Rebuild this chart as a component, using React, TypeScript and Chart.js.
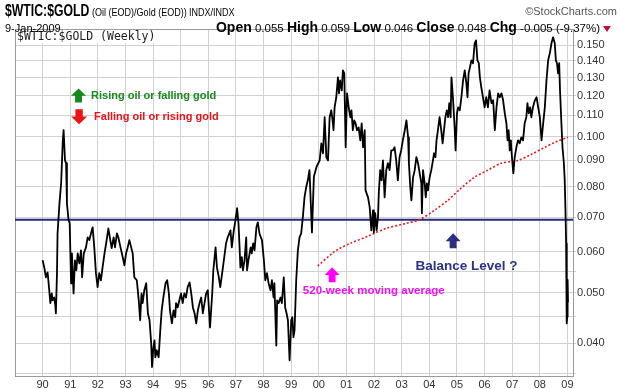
import React, { useEffect, useRef } from "react";
import { Chart, registerables } from "chart.js";

Chart.register(...registerables);

// ---- data (decimal year of week, ratio oil/gold) ----
const weeks: number[] = [
  1990.00, 1990.06, 1990.12, 1990.18, 1990.24, 1990.28, 1990.33, 1990.36, 1990.42, 1990.46,
  1990.48, 1990.52, 1990.54, 1990.61, 1990.67, 1990.73, 1990.76, 1990.81, 1990.85, 1990.88,
  1990.94, 1990.98, 1991.03, 1991.06, 1991.12, 1991.17, 1991.22, 1991.27, 1991.33, 1991.39,
  1991.43, 1991.49, 1991.57, 1991.63, 1991.69, 1991.75, 1991.81, 1991.87, 1991.93, 1991.99,
  1992.05, 1992.11, 1992.17, 1992.24, 1992.30, 1992.38, 1992.45, 1992.50, 1992.57, 1992.62,
  1992.69, 1992.74, 1992.82, 1992.90, 1992.96, 1993.02, 1993.08, 1993.14, 1993.26, 1993.32,
  1993.41, 1993.48, 1993.53, 1993.58, 1993.62, 1993.68, 1993.75, 1993.81, 1993.87, 1993.93,
  1993.96, 1994.01, 1994.05, 1994.08, 1994.13, 1994.20, 1994.26, 1994.31, 1994.37, 1994.45,
  1994.51, 1994.57, 1994.61, 1994.68, 1994.74, 1994.80, 1994.83, 1994.89, 1994.95, 1995.01,
  1995.07, 1995.13, 1995.19, 1995.25, 1995.32, 1995.38, 1995.44, 1995.50, 1995.56, 1995.62,
  1995.68, 1995.74, 1995.80, 1995.86, 1995.92, 1995.98, 1996.06, 1996.14, 1996.18, 1996.26,
  1996.31, 1996.38, 1996.43, 1996.50, 1996.56, 1996.64, 1996.70, 1996.80, 1996.85, 1996.92,
  1996.98, 1997.04, 1997.09, 1997.13, 1997.16, 1997.21, 1997.25, 1997.31, 1997.37, 1997.40,
  1997.45, 1997.53, 1997.57, 1997.62, 1997.67, 1997.74, 1997.79, 1997.85, 1997.94, 1998.01,
  1998.06, 1998.12, 1998.18, 1998.25, 1998.30, 1998.36, 1998.39, 1998.46, 1998.49, 1998.54,
  1998.61, 1998.66, 1998.73, 1998.78, 1998.83, 1998.88, 1998.94, 1999.00, 1999.04, 1999.08,
  1999.12, 1999.18, 1999.24, 1999.30, 1999.36, 1999.42, 1999.48, 1999.54, 1999.60, 1999.66,
  1999.75, 1999.82, 1999.92, 2000.03, 2000.09, 2000.15, 2000.21, 2000.27, 2000.33, 2000.39,
  2000.45, 2000.51, 2000.53, 2000.57, 2000.63, 2000.69, 2000.73, 2000.77, 2000.83, 2000.87,
  2000.92, 2000.97, 2001.02, 2001.08, 2001.14, 2001.18, 2001.23, 2001.28, 2001.33, 2001.38,
  2001.44, 2001.50, 2001.55, 2001.60, 2001.66, 2001.69, 2001.78, 2001.84, 2001.90, 2001.96,
  2001.99, 2002.04, 2002.09, 2002.14, 2002.17, 2002.22, 2002.27, 2002.32, 2002.38, 2002.44,
  2002.50, 2002.56, 2002.62, 2002.68, 2002.74, 2002.80, 2002.86, 2002.92, 2002.98, 2003.04,
  2003.11, 2003.17, 2003.23, 2003.26, 2003.31, 2003.35, 2003.41, 2003.47, 2003.53, 2003.59,
  2003.65, 2003.71, 2003.73, 2003.77, 2003.83, 2003.87, 2003.91, 2003.95, 2004.01, 2004.07,
  2004.13, 2004.17, 2004.22, 2004.26, 2004.31, 2004.37, 2004.43, 2004.48, 2004.53, 2004.58,
  2004.63, 2004.68, 2004.72, 2004.77, 2004.80, 2004.86, 2004.92, 2004.95, 2005.00, 2005.04,
  2005.10, 2005.16, 2005.22, 2005.28, 2005.34, 2005.38, 2005.42, 2005.47, 2005.52, 2005.58,
  2005.64, 2005.69, 2005.74, 2005.79, 2005.83, 2005.88, 2005.94, 2006.00, 2006.06, 2006.12,
  2006.18, 2006.25, 2006.31, 2006.37, 2006.43, 2006.49, 2006.55, 2006.61, 2006.67, 2006.73,
  2006.79, 2006.83, 2006.87, 2006.91, 2006.95, 2006.99, 2007.04, 2007.09, 2007.15, 2007.21,
  2007.27, 2007.33, 2007.39, 2007.45, 2007.51, 2007.55, 2007.60, 2007.65, 2007.69, 2007.75,
  2007.82, 2007.88, 2007.94, 2008.00, 2008.06, 2008.12, 2008.18, 2008.24, 2008.30, 2008.36,
  2008.42, 2008.48, 2008.54, 2008.58, 2008.62, 2008.66, 2008.70, 2008.73, 2008.78, 2008.82,
  2008.87, 2008.90, 2008.93, 2008.95, 2008.965, 2008.98, 2008.99, 2009.005, 2009.02,
];

const ratio: number[] = [
  0.0578, 0.0560, 0.0536, 0.0548, 0.0506, 0.0478, 0.0499, 0.0484, 0.0490, 0.0473,
  0.0457, 0.0546, 0.0651, 0.0744, 0.0813, 0.0984, 0.1029, 0.0900, 0.0889, 0.0744,
  0.0690, 0.0681, 0.0522, 0.0596, 0.0499, 0.0578, 0.0553, 0.0596, 0.0570, 0.0604,
  0.0536, 0.0596, 0.0612, 0.0640, 0.0632, 0.0651, 0.0669, 0.0612, 0.0546, 0.0513,
  0.0546, 0.0529, 0.0560, 0.0596, 0.0623, 0.0666, 0.0632, 0.0610, 0.0640, 0.0612,
  0.0651, 0.0640, 0.0612, 0.0586, 0.0565, 0.0596, 0.0612, 0.0632, 0.0596, 0.0536,
  0.0529, 0.0484, 0.0443, 0.0499, 0.0478, 0.0506, 0.0522, 0.0457, 0.0443, 0.0400,
  0.0360, 0.0393, 0.0405, 0.0376, 0.0388, 0.0376, 0.0424, 0.0463, 0.0490, 0.0522,
  0.0529, 0.0499, 0.0463, 0.0437, 0.0463, 0.0449, 0.0478, 0.0469, 0.0484, 0.0499,
  0.0478, 0.0499, 0.0490, 0.0513, 0.0524, 0.0499, 0.0469, 0.0457, 0.0437, 0.0463,
  0.0478, 0.0490, 0.0457, 0.0478, 0.0499, 0.0506, 0.0429, 0.0499, 0.0553, 0.0612,
  0.0560, 0.0536, 0.0513, 0.0546, 0.0578, 0.0623, 0.0640, 0.0660, 0.0612, 0.0660,
  0.0690, 0.0728, 0.0681, 0.0612, 0.0560, 0.0586, 0.0553, 0.0578, 0.0640, 0.0553,
  0.0578, 0.0612, 0.0596, 0.0623, 0.0604, 0.0669, 0.0684, 0.0651, 0.0632, 0.0578,
  0.0529, 0.0546, 0.0522, 0.0506, 0.0529, 0.0490, 0.0522, 0.0396, 0.0484, 0.0478,
  0.0490, 0.0478, 0.0536, 0.0469, 0.0457, 0.0443, 0.0371, 0.0443, 0.0449, 0.0411,
  0.0424, 0.0529, 0.0604, 0.0640, 0.0651, 0.0700, 0.0764, 0.0799, 0.0824, 0.0862,
  0.0654, 0.0838, 0.0876, 0.0900, 0.0971, 0.0929, 0.1090, 0.0913, 0.0900, 0.1090,
  0.1124, 0.1061, 0.1029, 0.1139, 0.1191, 0.1301, 0.1212, 0.1284, 0.1228, 0.1342,
  0.1324, 0.0954, 0.1212, 0.1139, 0.1090, 0.1124, 0.1029, 0.1075, 0.1061, 0.1029,
  0.1042, 0.0984, 0.1061, 0.0954, 0.1029, 0.0788, 0.0764, 0.0731, 0.0660, 0.0721,
  0.0654, 0.0712, 0.0660, 0.0700, 0.0778, 0.0862, 0.0824, 0.0900, 0.0764, 0.0862,
  0.0889, 0.0862, 0.0941, 0.0941, 0.0954, 0.0900, 0.0824, 0.0913, 0.0941, 0.0984,
  0.1029, 0.1075, 0.0997, 0.0889, 0.0799, 0.0754, 0.0835, 0.0862, 0.0913, 0.0889,
  0.0850, 0.0813, 0.0712, 0.0862, 0.0813, 0.0764, 0.0813, 0.0788, 0.0835, 0.0862,
  0.0900, 0.0929, 0.0913, 0.0984, 0.1029, 0.1090, 0.1029, 0.0971, 0.1029, 0.1090,
  0.1124, 0.1090, 0.1160, 0.1090, 0.1301, 0.1175, 0.1029, 0.0941, 0.1109, 0.1139,
  0.1124, 0.1191, 0.1284, 0.1342, 0.1267, 0.1191, 0.1324, 0.1360, 0.1403, 0.1385,
  0.1513, 0.1533, 0.1403, 0.1385, 0.1301, 0.1245, 0.1191, 0.1139, 0.1191, 0.1139,
  0.1228, 0.1160, 0.1175, 0.1029, 0.1139, 0.1212, 0.1191, 0.1212, 0.1175, 0.1109,
  0.1061, 0.0984, 0.1029, 0.0941, 0.0984, 0.0913, 0.0850, 0.0913, 0.0954, 0.0984,
  0.0971, 0.0997, 0.0984, 0.1061, 0.1090, 0.1160, 0.1109, 0.1139, 0.1090, 0.1139,
  0.1175, 0.1191, 0.1139, 0.1090, 0.0984, 0.1061, 0.1139, 0.1284, 0.1403, 0.1447,
  0.1513, 0.1554, 0.1513, 0.1403, 0.1385, 0.1324, 0.1385, 0.1228, 0.1061, 0.0954,
  0.0889, 0.0824, 0.0712, 0.0623, 0.0560, 0.0437, 0.0450, 0.0530, 0.0480,
];

// 520-week moving average
const maWeeks: number[] = [
  1999.96, 2000.50, 2000.75, 2001.11, 2001.83, 2002.44, 2003.17, 2003.65, 2004.19, 2004.67,
  2005.16, 2005.64, 2006.12, 2006.61, 2007.20, 2007.70, 2008.18, 2008.54, 2009.02,
];
const maValues: number[] = [
  0.0564, 0.0597, 0.0609, 0.0622, 0.0645, 0.0666, 0.0681, 0.0692, 0.0722, 0.0754,
  0.0797, 0.0836, 0.0862, 0.0889, 0.0900, 0.0925, 0.0954, 0.0975, 0.0998,
];

const balanceLevel = 0.0692;
const xRange: number[] = [1989.0, 2009.2];
const yRange: number[] = [0.0346, 0.1612];
const yearTicks: number[] = [
  1990, 1991, 1992, 1993, 1994, 1995, 1996, 1997, 1998, 1999,
  2000, 2001, 2002, 2003, 2004, 2005, 2006, 2007, 2008, 2009,
];
const yMajorTicks: number[] = [0.04, 0.05, 0.06, 0.07, 0.08, 0.09, 0.1, 0.11, 0.12, 0.13, 0.14, 0.15];
const yMinorTicks: number[] = [0.035, 0.045, 0.055];

const SANS = '"Liberation Sans", Arial, Helvetica, sans-serif';

function drawArrow(ctx: CanvasRenderingContext2D, cx: number, cy: number, w: number, h: number, up: boolean, color: string) {
  const headH = h * 0.52;
  const sw = w * 0.46;
  const top = cy - h / 2;
  const bottom = cy + h / 2;
  ctx.save();
  ctx.fillStyle = color;
  ctx.beginPath();
  if (up) {
    ctx.moveTo(cx, top);
    ctx.lineTo(cx + w / 2, top + headH);
    ctx.lineTo(cx + sw / 2, top + headH);
    ctx.lineTo(cx + sw / 2, bottom);
    ctx.lineTo(cx - sw / 2, bottom);
    ctx.lineTo(cx - sw / 2, top + headH);
    ctx.lineTo(cx - w / 2, top + headH);
  } else {
    ctx.moveTo(cx, bottom);
    ctx.lineTo(cx + w / 2, bottom - headH);
    ctx.lineTo(cx + sw / 2, bottom - headH);
    ctx.lineTo(cx + sw / 2, top);
    ctx.lineTo(cx - sw / 2, top);
    ctx.lineTo(cx - sw / 2, bottom - headH);
    ctx.lineTo(cx - w / 2, bottom - headH);
  }
  ctx.closePath();
  ctx.fill();
  ctx.restore();
}

const framePlugin = {
  id: "frame",
  beforeDatasetsDraw(chart: any) {
    const { ctx, chartArea } = chart;
    ctx.save();
    ctx.strokeStyle = "#9a9a9a";
    ctx.lineWidth = 1;
    ctx.beginPath();
    ctx.moveTo(chartArea.left + 0.5, chartArea.bottom);
    ctx.lineTo(chartArea.left + 0.5, chartArea.top + 0.5);
    ctx.lineTo(chartArea.right, chartArea.top + 0.5);
    ctx.stroke();
    ctx.font = '11.5px "DejaVu Sans Mono", monospace';
    const label = "$WTIC:$GOLD (Weekly)";
    const tw = ctx.measureText(label).width;
    ctx.fillStyle = "#ffffff";
    ctx.fillRect(chartArea.left + 1, chartArea.top + 1, tw + 4, 13);
    ctx.fillStyle = "#1a1a1a";
    ctx.textBaseline = "middle";
    ctx.textAlign = "left";
    ctx.fillText(label, chartArea.left + 2, chartArea.top + 8);
    ctx.restore();
  },
};

const annotationPlugin = {
  id: "notes",
  afterDatasetsDraw(chart: any) {
    const { ctx } = chart;
    const xs = chart.scales.x;
    const ys = chart.scales.y;
    const P = (t: number, v: number) => [xs.getPixelForValue(t), ys.getPixelForValue(v)];
    ctx.save();
    ctx.textBaseline = "middle";
    ctx.textAlign = "left";

    let [ax, ay] = P(1991.30, 0.12);
    drawArrow(ctx, ax, ay, 15, 14, true, "#138a1a");
    ctx.font = "bold 11px " + SANS;
    ctx.fillStyle = "#178a1e";
    ctx.fillText("Rising oil or falling gold", ax + 12.5, ay + 0.5);

    [ax, ay] = P(1991.32, 0.1092);
    drawArrow(ctx, ax, ay, 16, 15, false, "#ee1111");
    ctx.fillStyle = "#e8141c";
    ctx.fillText("Falling oil or rising gold", ax + 15, ay + 0.5);

    [ax, ay] = P(2000.48, 0.0542);
    drawArrow(ctx, ax, ay, 15, 15, true, "#ff00ff");
    let [tx, ty] = P(1999.42, 0.0504);
    ctx.font = "bold 11.5px " + SANS;
    ctx.fillStyle = "#f010f0";
    ctx.fillText("520-week moving average", tx, ty);

    [ax, ay] = P(2004.86, 0.063);
    drawArrow(ctx, ax, ay, 15, 15, true, "#2a2f82");
    [tx, ty] = P(2003.5, 0.0563);
    ctx.font = "bold 13.5px " + SANS;
    ctx.fillStyle = "#2e3286";
    ctx.fillText("Balance Level ?", tx, ty);
    ctx.restore();
  },
};

export default function App() {
  const ref = useRef<HTMLCanvasElement | null>(null);

  useEffect(() => {
    if (!ref.current) return;
    const allY = [...yMinorTicks, ...yMajorTicks].sort((a, b) => a - b);
    const chart = new Chart(ref.current, {
      type: "line",
      data: {
        datasets: [
          {
            data: weeks.map((w, i) => ({ x: w, y: ratio[i] })),
            borderColor: "#000000",
            borderWidth: 1.8,
            pointRadius: 0,
            tension: 0,
            borderJoinStyle: "round",
          },
          {
            data: maWeeks.map((w, i) => ({ x: w, y: maValues[i] })),
            borderColor: "#e41b1b",
            borderWidth: 1.6,
            borderDash: [2, 2],
            pointRadius: 0,
            tension: 0.3,
          },
          {
            data: xRange.map((w) => ({ x: w, y: balanceLevel })),
            borderColor: "#262a7c",
            borderWidth: 2,
            pointRadius: 0,
          },
        ],
      } as any,
      options: {
        animation: false,
        responsive: false,
        devicePixelRatio: 1,
        events: [],
        layout: { padding: { left: 15, top: 29, right: 0, bottom: 0 } },
        plugins: {
          legend: { display: false },
          tooltip: { enabled: false },
          title: { display: false },
        },
        scales: {
          x: {
            type: "linear",
            position: "bottom",
            min: xRange[0],
            max: xRange[1],
            afterBuildTicks: (s: any) => {
              s.ticks = yearTicks.map((v) => ({ value: v }));
            },
            afterFit: (s: any) => {
              s.height = 13;
            },
            ticks: {
              autoSkip: false,
              maxRotation: 0,
              padding: 2,
              color: "#333333",
              font: { family: SANS, size: 11 },
              callback: (v: any) => String(Math.round(Number(v)) % 100).padStart(2, "0"),
            },
            grid: { color: "#d2d2d2", drawTicks: false, lineWidth: 1 },
            border: { color: "#9a9a9a" },
          },
          y: {
            type: "logarithmic",
            position: "right",
            min: yRange[0],
            max: yRange[1],
            afterBuildTicks: (s: any) => {
              s.ticks = allY.map((v) => ({ value: v }));
            },
            afterFit: (s: any) => {
              s.width = 47;
            },
            ticks: {
              autoSkip: false,
              padding: 1,
              color: "#333333",
              font: { family: SANS, size: 11 },
              callback: (v: any) => {
                const n = Number(v);
                const m = yMajorTicks.find((t) => Math.abs(t - n) < 1e-7);
                return m !== undefined ? m.toFixed(3) : "";
              },
            },
            grid: { color: "#d2d2d2", tickLength: 3, lineWidth: 1 },
            border: { color: "#9a9a9a" },
          },
        },
      } as any,
      plugins: [framePlugin, annotationPlugin],
    });
    return () => chart.destroy();
  }, []);

  const narrow = (scale: number, origin: string): React.CSSProperties => ({
    display: "inline-block",
    transform: `scaleX(${scale})`,
    transformOrigin: origin,
    whiteSpace: "nowrap",
  });

  const boldLabel: React.CSSProperties = { fontSize: 14 };

  return (
    <div
      style={{
        position: "absolute",
        left: 0,
        top: 0,
        width: 620,
        height: 389,
        background: "#ffffff",
        overflow: "hidden",
        fontFamily: SANS,
        color: "#000",
      }}
    >
      <canvas ref={ref} width={620} height={389} style={{ position: "absolute", left: 0, top: 0 }} />
      <div style={{ position: "absolute", left: 5, top: 1, fontSize: 17, lineHeight: "19px", fontWeight: "bold" }}>
        <span style={narrow(0.72, "left center")}>$WTIC:$GOLD</span>
      </div>
      <div style={{ position: "absolute", left: 92, top: 5, fontSize: 11, lineHeight: "14px" }}>
        <span style={narrow(0.82, "left center")}>(Oil (EOD)/Gold (EOD))</span>
      </div>
      <div style={{ position: "absolute", left: 189, top: 6, fontSize: 10, lineHeight: "13px" }}>
        <span style={narrow(0.9, "left center")}>INDX/INDX</span>
      </div>
      <div style={{ position: "absolute", right: 3, top: 4, fontSize: 11, lineHeight: "14px", color: "#555" }}>
        ©StockCharts.com
      </div>
      <div style={{ position: "absolute", left: 5, top: 21, fontSize: 11, lineHeight: "14px" }}>9-Jan-2009</div>
      <div
        style={{
          position: "absolute",
          right: 20,
          top: 20,
          fontSize: 11.5,
          lineHeight: "15px",
          whiteSpace: "nowrap",
        }}
      >
        <b style={boldLabel}>Open</b> 0.055 <b style={boldLabel}>High</b> 0.059{" "}
        <b style={boldLabel}>Low</b> 0.046 <b style={boldLabel}>Close</b> 0.048{" "}
        <b style={boldLabel}>Chg</b> -0.005 (-9.37%)
      </div>
      <div
        style={{
          position: "absolute",
          left: 603,
          top: 26,
          width: 0,
          height: 0,
          borderLeft: "4px solid transparent",
          borderRight: "4px solid transparent",
          borderTop: "6px solid #c0103a",
        }}
      />
    </div>
  );
}
